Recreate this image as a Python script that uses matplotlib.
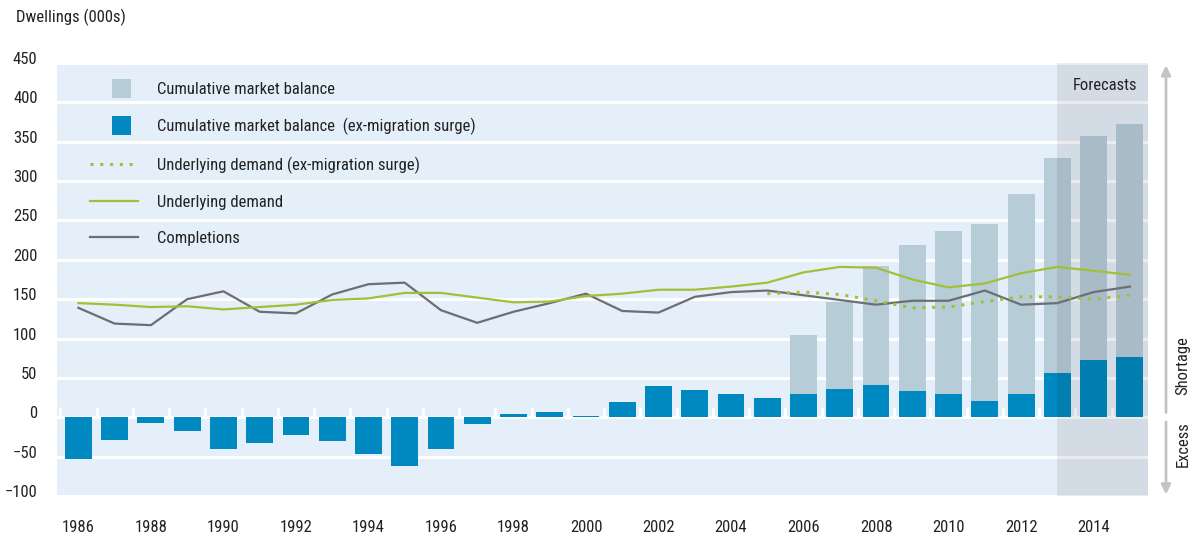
import numpy as np
import matplotlib
matplotlib.use('Agg')
import matplotlib.pyplot as plt
from matplotlib import font_manager
from matplotlib.lines import Line2D
from matplotlib.patches import Patch, Rectangle
from matplotlib.legend_handler import HandlerPatch
import matplotlib.transforms as mtransforms

# --- datos ---
years = np.arange(1986, 2016)

# balance acumulado (ex-migration surge), barras oscuras
balance_ex = [-53, -29, -7, -17, -40, -33, -23, -30, -47, -62,
              -40, -9, 4, 7, 2, 20, 40, 35, 30, 25,
              29, 36, 41, 34, 29, 21, 30, 56, 73, 76]

# balance acumulado total, barras claras (igual al anterior hasta 2005)
balance_total = [-53, -29, -7, -17, -40, -33, -23, -30, -47, -62,
                 -40, -9, 4, 7, 2, 20, 40, 35, 30, 25,
                 104, 146, 192, 219, 236, 245, 283, 329, 357, 372]

completions = [139, 119, 117, 150, 160, 134, 132, 156, 169, 171,
               136, 120, 134, 145, 157, 135, 133, 153, 159, 161,
               155, 149, 143, 148, 148, 161, 143, 145, 159, 166]

demand = [145, 143, 140, 141, 137, 140, 143, 149, 151, 158,
          158, 152, 146, 147, 154, 157, 162, 162, 166, 171,
          184, 191, 190, 175, 165, 170, 183, 191, 186, 181]

demand_ex_years = np.arange(2005, 2016)
demand_ex = [157, 159, 156, 148, 139, 140, 147, 153, 153, 150, 155]

forecast_start = 2013
year_labels = np.arange(1986, 2015, 2)
y_ticks = np.arange(-100, 451, 50)

# --- fuente condensada si existe ---
available = {f.name for f in font_manager.fontManager.ttflist}
fam = 'DejaVu Sans'
fsize = 10
for cand, size in [('Liberation Sans Narrow', 12.5), ('Arial Narrow', 12.5),
                   ('Roboto Condensed', 12), ('Liberation Sans', 10.3)]:
    if cand in available:
        fam, fsize = cand, size
        break
plt.rcParams['font.family'] = [fam, 'DejaVu Sans']
plt.rcParams['font.size'] = fsize

light_col = '#b6ccd7'
dark_col = '#0089c0'
green = '#a2c037'
grey = '#6d6e71'
bg = '#e5eff9'
txt = '#222222'


def square_handle(legend, orig_handle, xdescent, ydescent, width, height, fontsize):
    # cuadro de 19 px, desplazado a la derecha dentro del hueco de la leyenda
    side = 13.7
    return Rectangle((15.8 - xdescent, height / 2 - side / 2 - ydescent), side, side)


fig = plt.figure(figsize=(11.94, 5.38), dpi=100)
ax = fig.add_axes([57/1194, 1 - 496/538, 1091/1194, 433/538])
ax.set_facecolor(bg)

ax.bar(years, balance_total, width=0.74, color=light_col, zorder=2)
ax.bar(years, balance_ex, width=0.74, color=dark_col, zorder=2.1)

# marcas blancas entre barras sobre el cero
ax.vlines(years - 0.5, 0, 13, color='white', lw=2, zorder=1.5)

ax.plot(years, completions, color=grey, lw=1.6, zorder=3)
ax.plot(years, demand, color=green, lw=1.6, zorder=3)
ax.plot(demand_ex_years, demand_ex, color=green, lw=2.2,
        linestyle=(0, (1, 2.2)), zorder=3)

# zona de pronostico
ax.axvspan(forecast_start, 2015.6, color='black', alpha=0.08, lw=0, zorder=2.5)
ax.text(2015.2, 422, 'Forecasts', ha='right', va='center', color=txt, zorder=5)

ax.set_xlim(1985.41, 2015.5)
ax.set_ylim(-100, 450)
ax.set_yticks(y_ticks)
ax.set_yticklabels([str(v).replace('-', '\u2212') for v in y_ticks])
ax.set_xticks(year_labels)
ax.set_xticklabels([str(y) for y in year_labels])
ax.yaxis.grid(True, color='white', lw=2.2, zorder=1)
ax.set_axisbelow(True)
ax.tick_params(axis='both', length=0, colors=txt)
ax.tick_params(axis='y', pad=14)
ax.tick_params(axis='x', pad=17)
for s in ax.spines.values():
    s.set_visible(False)

# etiquetas del eje y un poco por encima de la linea
offset = mtransforms.ScaledTranslation(0, 5/100, fig.dpi_scale_trans)
for lab in ax.get_yticklabels():
    lab.set_transform(lab.get_transform() + offset)

fig.text(16/1194, 1 - 17/538, 'Dwellings (000s)', ha='left', va='center', color=txt)

# leyenda sin marco
handles = [
    Patch(color=light_col, lw=0),
    Patch(color=dark_col, lw=0),
    Line2D([], [], color=green, lw=2.2, linestyle=(0, (1, 2.2))),
    Line2D([], [], color=green, lw=1.6),
    Line2D([], [], color=grey, lw=1.6),
]
labels = ['Cumulative market balance',
          'Cumulative market balance  (ex-migration surge)',
          'Underlying demand (ex-migration surge)',
          'Underlying demand',
          'Completions']
sq = HandlerPatch(patch_func=square_handle)
leg = ax.legend(handles, labels, loc='upper left', bbox_to_anchor=(0.0302, 0.956),
                frameon=False, borderpad=0, borderaxespad=0, handlelength=2.9,
                handletextpad=1.15, labelspacing=1.27,
                handler_map={handles[0]: sq, handles[1]: sq})
for t in leg.get_texts():
    t.set_color(txt)

# flechas laterales shortage / excess
yt = ax.get_yaxis_transform()
arrow = dict(arrowstyle='-|>', color='#c4c4c4', lw=2, mutation_scale=14,
             shrinkA=0, shrinkB=0)
ax.annotate('', xy=(1.0165, 447), xytext=(1.0165, 6), xycoords=yt,
            textcoords=yt, arrowprops=arrow, annotation_clip=False)
ax.annotate('', xy=(1.0165, -98), xytext=(1.0165, -6), xycoords=yt,
            textcoords=yt, arrowprops=arrow, annotation_clip=False)
ax.text(1.032, 28, 'Shortage', transform=yt, rotation=90, ha='center',
        va='bottom', color=txt, clip_on=False)
ax.text(1.032, -5, 'Excess', transform=yt, rotation=90, ha='center',
        va='top', color=txt, clip_on=False)

fig.savefig('out.png', dpi=100)
